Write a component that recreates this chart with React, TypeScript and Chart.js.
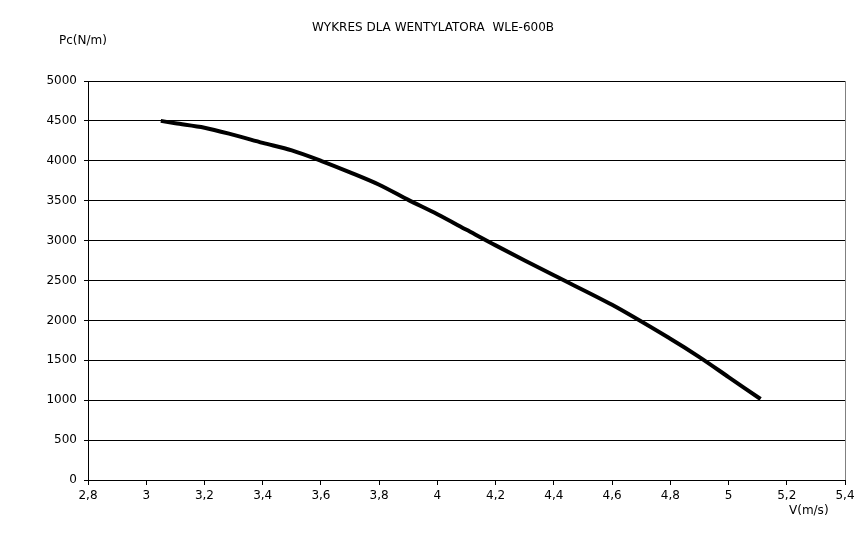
import React, { useEffect, useRef } from "react";
import { Chart, registerables } from "chart.js";

Chart.register(...registerables);

const TITLE = "WYKRES DLA WENTYLATORA  WLE-600B";
const Y_LABEL = "Pc(N/m)";
const X_LABEL = "V(m/s)";

const velocity = [3.05, 3.1, 3.2, 3.3, 3.4, 3.5, 3.6, 3.7, 3.8, 3.9, 4.0, 4.1, 4.2, 4.4, 4.6, 4.8, 4.9, 5.0, 5.11];
const pressure = [4500, 4470, 4415, 4325, 4225, 4130, 4000, 3855, 3700, 3510, 3330, 3135, 2940, 2565, 2195, 1770, 1540, 1290, 1015];

const X_MIN = 2.8;
const X_MAX = 5.4;
const X_STEP = 0.2;
const Y_MIN = 0;
const Y_MAX = 5000;
const Y_STEP = 500;

const FONT = "'DejaVu Sans', sans-serif";

const textPlugin = {
  id: "extraText",
  afterDraw(chart: any) {
    const { ctx, chartArea } = chart;
    ctx.save();
    ctx.strokeStyle = "#808080";
    ctx.lineWidth = 1;
    ctx.beginPath();
    ctx.moveTo(Math.round(chartArea.right) + 0.5, chartArea.top);
    ctx.lineTo(Math.round(chartArea.right) + 0.5, chartArea.bottom);
    ctx.stroke();

    ctx.fillStyle = "#000";
    ctx.textBaseline = "middle";
    ctx.font = `12px ${FONT}`;
    ctx.textAlign = "center";
    ctx.fillText(TITLE, 433, 28);

    ctx.textAlign = "left";
    ctx.fillText(Y_LABEL, 59, 41);
    ctx.fillText(X_LABEL, 789, 511);
    ctx.restore();
  },
};

export default function App() {
  const ref = useRef<HTMLCanvasElement>(null);

  useEffect(() => {
    document.body.style.margin = "0";
    const points = velocity.map((v, i) => ({ x: v, y: pressure[i] }));
    const chart = new Chart(ref.current as HTMLCanvasElement, {
      type: "line",
      data: {
        datasets: [
          {
            data: points,
            borderColor: "#000",
            borderWidth: 4,
            pointRadius: 0,
            tension: 0.3,
            fill: false,
          },
        ],
      },
      options: {
        animation: false,
        responsive: false,
        layout: { padding: { top: 81, right: 21, left: 0, bottom: 0 } },
        plugins: { legend: { display: false }, tooltip: { enabled: false }, title: { display: false } },
        scales: {
          x: {
            type: "linear",
            min: X_MIN,
            max: X_MAX,
            ticks: {
              stepSize: X_STEP,
              color: "#000",
              font: { family: FONT, size: 12 },
              padding: 4,
              maxRotation: 0,
              autoSkip: false,
              callback: (v: any) => String(Number(Number(v).toFixed(1))).replace(".", ","),
            },
            grid: { drawOnChartArea: false, drawTicks: true, tickLength: 5, color: "#000" },
            border: { display: true, color: "#000" },
            afterFit: (s: any) => {
              s.height = 68;
            },
          },
          y: {
            min: Y_MIN,
            max: Y_MAX,
            ticks: {
              stepSize: Y_STEP,
              color: "#000",
              font: { family: FONT, size: 12 },
              padding: 7,
              autoSkip: false,
              callback: (v: any) => String(Math.round(Number(v))),
            },
            grid: { drawTicks: true, tickLength: 4, color: "#000", lineWidth: 1 },
            border: { display: true, color: "#000" },
            afterFit: (s: any) => {
              s.width = 88;
            },
          },
        },
      },
      plugins: [textPlugin],
    });
    return () => chart.destroy();
  }, []);

  return (
    <div style={{ position: "absolute", left: 0, top: 0, width: 866, height: 548, background: "#fff" }}>
      <canvas ref={ref} width={866} height={548} />
    </div>
  );
}
